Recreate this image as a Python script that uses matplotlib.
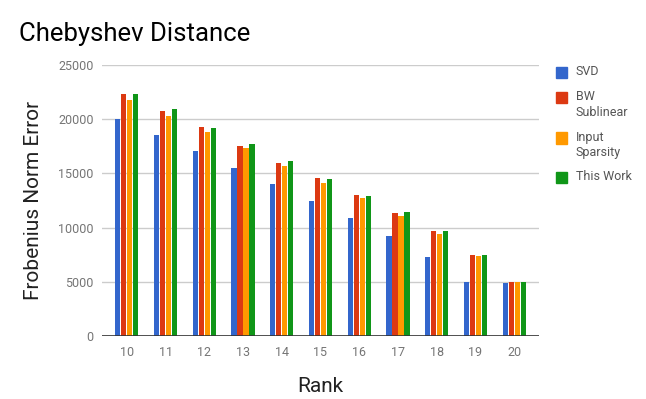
import numpy as np
import matplotlib.pyplot as plt
from matplotlib.patches import Rectangle

plt.rcParams["font.family"] = ["Roboto", "DejaVu Sans"]

ranks = [10, 11, 12, 13, 14, 15, 16, 17, 18, 19, 20]
svd = [20000, 18500, 17050, 15470, 14000, 12430, 10860, 9200, 7260, 4960, 4870]
bw_sublinear = [22320, 20730, 19250, 17500, 15930, 14550, 12980, 11320, 9660, 7450, 4960]
input_sparsity = [21770, 20270, 18820, 17320, 15660, 14110, 12730, 11070, 9410, 7350, 4960]
this_work = [22320, 20910, 19160, 17680, 16120, 14480, 12890, 11410, 9660, 7450, 4960]

series = [
    ("SVD", svd, "#3366cc"),
    ("BW\nSublinear", bw_sublinear, "#dc3912"),
    ("Input\nSparsity", input_sparsity, "#ff9900"),
    ("This Work", this_work, "#109618"),
]

W, H = 646, 399
fig = plt.figure(figsize=(W / 100, H / 100), dpi=100)
# plot area: x 102..539, y 65..336 (pixels)
ax = fig.add_axes([102 / W, 1 - 336 / H, 437 / W, 271 / H])

x = np.arange(len(ranks))
width = 0.132
step = 0.155
for i, (name, vals, col) in enumerate(series):
    ax.bar(x + (i - 1.5) * step, vals, width, color=col, label=name, zorder=3)

ax.set_xlim(-0.64, len(ranks) - 0.36)
ax.set_ylim(0, 25000)
ax.set_yticks([0, 5000, 10000, 15000, 20000, 25000])
ax.set_xticks(x)
ax.set_xticklabels([str(r) for r in ranks])
ax.grid(axis="y", color="#cccccc", linewidth=1, zorder=0)
ax.axhline(0, color="#333333", linewidth=1.2, zorder=4)
for s in ax.spines.values():
    s.set_visible(False)
ax.tick_params(length=0, colors="#757575", labelsize=9)
ax.tick_params(axis="x", pad=7.5)
ax.tick_params(axis="y", pad=6)

ax.set_xlabel("Rank", fontsize=15, color="#222222", labelpad=13)
ax.set_ylabel("Frobenius Norm Error", fontsize=15, color="#222222", labelpad=11)
fig.text(19 / W, 1 - 34 / H, "Chebyshev Distance", fontsize=18.5, color="#000000", va="center")

# legend, drawn by hand so the swatch sits on the first line of the label
legend_tops = [72.5, 97.5, 138, 177.5]
for (name, _, col), yc in zip(series, legend_tops):
    fig.patches.append(Rectangle((556 / W, 1 - (yc + 5.5) / H), 11 / W, 11 / H,
                                 transform=fig.transFigure, color=col, figure=fig))
    fig.text(576 / W, 1 - (yc - 7.5) / H, name, fontsize=9, color="#555555",
             va="top", ha="left", linespacing=1.25)

fig.savefig("out.png", dpi=100)
